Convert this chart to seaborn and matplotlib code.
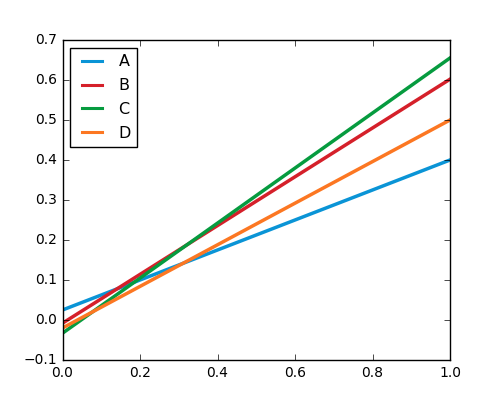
import pandas as pd
import matplotlib
matplotlib.use("Agg")
import matplotlib.pyplot as plt
import seaborn as sns

# endpoints of each line at x=0 and x=1
x_vals = [0.0, 1.0]
series_names = ['A', 'B', 'C', 'D']
a_vals = [0.025, 0.40]
b_vals = [-0.008, 0.602]
c_vals = [-0.033, 0.655]
d_vals = [-0.02, 0.50]
colors = ['#0a94d6', '#d5202a', '#069b3f', '#fc7722']

rows = []
for name, vals in zip(series_names, [a_vals, b_vals, c_vals, d_vals]):
    for x, y in zip(x_vals, vals):
        rows.append({'x': x, 'y': y, 'series': name})
df = pd.DataFrame(rows)

plt.style.use('classic')
fig = plt.figure(figsize=(5, 4), dpi=100, facecolor='white')
ax = fig.add_axes([0.125, 0.1, 0.775, 0.8])

sns.lineplot(data=df, x='x', y='y', hue='series', palette=colors,
             linewidth=2.5, ax=ax)

ax.set_xlim(0, 1)
ax.set_ylim(-0.1, 0.7)
ax.set_xlabel('')
ax.set_ylabel('')
ax.tick_params(labelsize=10)
leg = ax.legend(loc='upper left', fontsize=11.5, fancybox=False,
                handlelength=1.9, labelspacing=0.55, handletextpad=0.7)
for line in leg.get_lines():
    line.set_linewidth(2.2)

fig.savefig('out.png', dpi=100, facecolor='white')
